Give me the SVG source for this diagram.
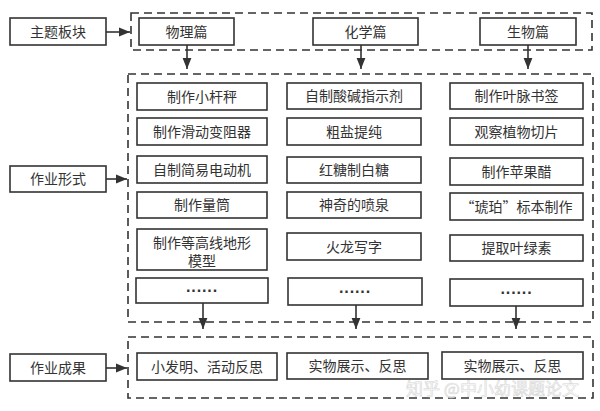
<svg xmlns="http://www.w3.org/2000/svg" width="600" height="411" viewBox="0 0 600 411">
<style>
.bg{fill:#ffffff}
.box{fill:#ffffff;stroke:#333333;stroke-width:1.6}
.grp{fill:none;stroke:#333333;stroke-width:1.6;stroke-dasharray:8 5}
.t{font-family:"Noto Sans CJK SC","Liberation Sans",sans-serif;font-size:14px;fill:#333333;text-anchor:middle}
.dots{font-family:"Liberation Sans",sans-serif;font-size:16px;font-weight:bold;fill:#333333;text-anchor:middle;letter-spacing:0px}
.ln{fill:none;stroke:#333333;stroke-width:1.6}
.wm{font-family:"Noto Sans CJK SC",sans-serif;font-size:17px;fill:#ffffff;stroke:#cccccc;stroke-width:0.6;opacity:0.8}
</style>
<defs>
<marker id="ah" viewBox="0 0 10 10" refX="10" refY="5" markerWidth="11" markerHeight="11" markerUnits="userSpaceOnUse" orient="auto">
<path d="M0,1 L10,5 L0,9 Z" fill="#333333"/>
</marker>
</defs>
<rect class="bg" x="0" y="0" width="600" height="411"/>

<g id="groups">
<rect class="grp" x="131" y="13" width="461" height="37"/>
<rect class="grp" x="128" y="74" width="465" height="248"/>
<rect class="grp" x="128" y="337" width="465" height="61"/>
</g>

<g id="connectors">
<line class="ln" x1="106" y1="32" x2="130" y2="32" marker-end="url(#ah)"/>
<line class="ln" x1="106" y1="179" x2="127" y2="179" marker-end="url(#ah)"/>
<line class="ln" x1="106" y1="368" x2="127" y2="368" marker-end="url(#ah)"/>
<line class="ln" x1="187" y1="45" x2="187" y2="69" marker-end="url(#ah)"/>
<line class="ln" x1="361" y1="45" x2="361" y2="69" marker-end="url(#ah)"/>
<line class="ln" x1="528" y1="45" x2="528" y2="69" marker-end="url(#ah)"/>
<line class="ln" x1="203" y1="303" x2="203" y2="329" marker-end="url(#ah)"/>
<line class="ln" x1="356" y1="305" x2="356" y2="329" marker-end="url(#ah)"/>
<line class="ln" x1="516" y1="306" x2="516" y2="329" marker-end="url(#ah)"/>
</g>

<g id="label-theme"><rect class="box" x="10" y="18" width="96" height="27"/><text class="t" x="58" y="36.5">主题板块</text></g>
<g id="label-form"><rect class="box" x="10" y="166" width="96" height="26"/><text class="t" x="58" y="184">作业形式</text></g>
<g id="label-result"><rect class="box" x="10" y="354" width="96" height="27"/><text class="t" x="58" y="372.5">作业成果</text></g>

<g id="physics"><rect class="box" x="139" y="18" width="95" height="27"/><text class="t" x="186.5" y="36.5">物理篇</text></g>
<g id="chemistry"><rect class="box" x="313" y="18" width="105" height="27"/><text class="t" x="365.5" y="36.5">化学篇</text></g>
<g id="biology"><rect class="box" x="480" y="18" width="96" height="27"/><text class="t" x="528" y="36.5">生物篇</text></g>

<g id="p1"><rect class="box" x="137" y="83" width="130" height="27"/><text class="t" x="202" y="101.5">制作小杆秤</text></g>
<g id="p2"><rect class="box" x="137" y="118" width="130" height="27"/><text class="t" x="202" y="136.5">制作滑动变阻器</text></g>
<g id="p3"><rect class="box" x="137" y="156" width="130" height="27"/><text class="t" x="202" y="174.5">自制简易电动机</text></g>
<g id="p4"><rect class="box" x="137" y="192" width="130" height="26"/><text class="t" x="202" y="210">制作量筒</text></g>
<g id="p5"><rect class="box" x="137" y="229" width="130" height="41"/><text class="t" x="202" y="247.5">制作等高线地形</text><text class="t" x="202" y="266">模型</text></g>
<g id="p6"><rect class="box" x="136" y="278" width="132" height="25"/><text class="dots" x="202" y="296">······</text></g>

<g id="c1"><rect class="box" x="287" y="83" width="134" height="26"/><text class="t" x="354" y="101">自制酸碱指示剂</text></g>
<g id="c2"><rect class="box" x="287" y="118" width="134" height="27"/><text class="t" x="354" y="136.5">粗盐提纯</text></g>
<g id="c3"><rect class="box" x="287" y="157" width="134" height="26"/><text class="t" x="354" y="175">红糖制白糖</text></g>
<g id="c4"><rect class="box" x="287" y="192" width="134" height="26"/><text class="t" x="354" y="210">神奇的喷泉</text></g>
<g id="c5"><rect class="box" x="287" y="233" width="134" height="27"/><text class="t" x="354" y="251.5">火龙写字</text></g>
<g id="c6"><rect class="box" x="288" y="278" width="134" height="27"/><text class="dots" x="355" y="297">······</text></g>

<g id="b1"><rect class="box" x="450" y="83" width="133" height="26"/><text class="t" x="516.5" y="101">制作叶脉书签</text></g>
<g id="b2"><rect class="box" x="450" y="118" width="133" height="27"/><text class="t" x="516.5" y="136.5">观察植物切片</text></g>
<g id="b3"><rect class="box" x="450" y="158" width="133" height="27"/><text class="t" x="516.5" y="176.5">制作苹果醋</text></g>
<g id="b4"><rect class="box" x="450" y="193" width="133" height="27"/><text class="t" x="516.5" y="211.5">“琥珀”标本制作</text></g>
<g id="b5"><rect class="box" x="450" y="235" width="133" height="26"/><text class="t" x="516.5" y="253">提取叶绿素</text></g>
<g id="b6"><rect class="box" x="450" y="279" width="133" height="27"/><text class="dots" x="516.5" y="298">······</text></g>

<g id="r1"><rect class="box" x="137" y="353" width="140" height="27"/><text class="t" x="207" y="371.5">小发明、活动反思</text></g>
<g id="r2"><rect class="box" x="287" y="353" width="141" height="26"/><text class="t" x="357.5" y="371">实物展示、反思</text></g>
<g id="r3"><rect class="box" x="442" y="352" width="141" height="27"/><text class="t" x="512.5" y="370.5">实物展示、反思</text></g>

<text class="wm" x="406" y="395">知乎 @中小幼课题论文</text>
</svg>
